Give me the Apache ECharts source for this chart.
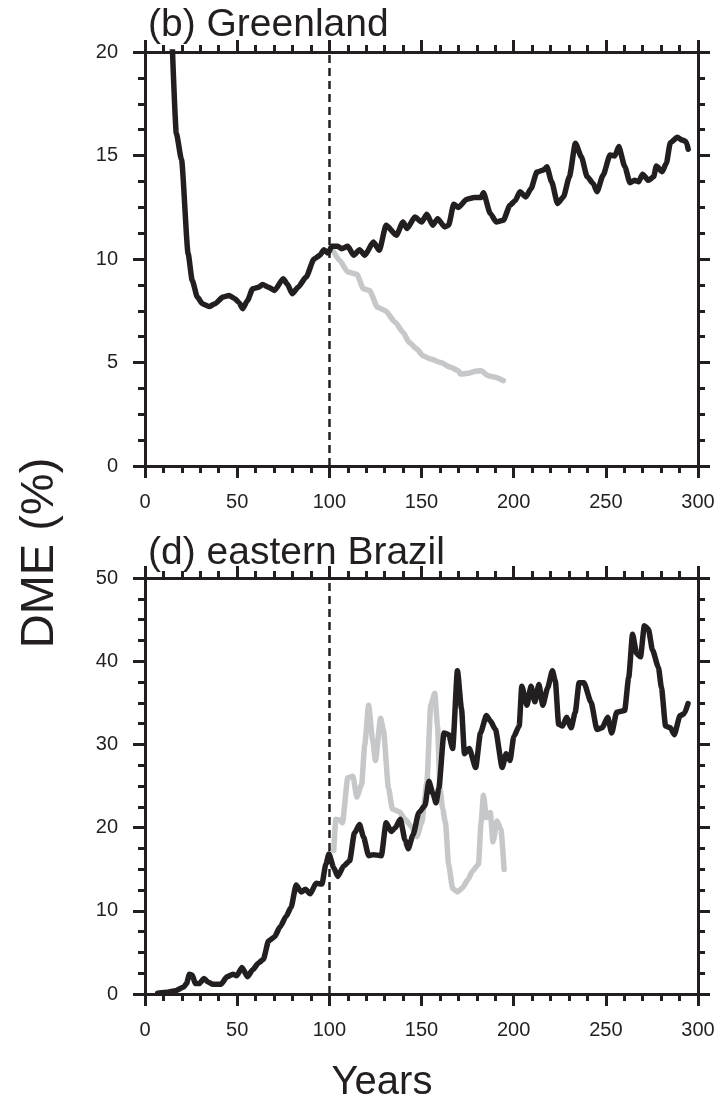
<!DOCTYPE html>
<html>
<head>
<meta charset="utf-8">
<script src="https://cdn.jsdelivr.net/npm/echarts@6/dist/echarts.min.js"></script>
<style>
html,body{margin:0;padding:0;background:#fff;}
#c{width:720px;height:1105px;}
</style>
</head>
<body>
<div id="c"></div>
<script>
// ---------- data ----------
const xTicks = [0, 50, 100, 150, 200, 250, 300];
const greenYears = [14.8,17,19.8,23.4,25.6,28.4,31.1,34.8,38,42.3,45.5,48.8,50.9,53,55.6,58.4,61.6,63.8,67,70.2,75,77.1,79.9,83.1,87.4,91.7,94.9,97.1,99.2,101.4,104.6,106.7,110,113.2,116.4,119.2,123.9,127.1,130.8,136.4,140,142.2,146.4,150.1,152.9,156.1,158.7,162.6,164.7,167.5,170.1,174.4,178.7,182.3,183.6,187.3,190.5,194.4,198,200.8,203.4,206.6,209.4,212.6,216.3,218,220.6,223.8,227,230.2,233.5,236.7,239.9,243.1,245.2,248.5,252.3,254.9,257,260.3,263.1,265.6,267.8,269.9,273.1,275.9,277.4,280.6,282.8,285,288.8,291.4,293.6,294.7];
const greenDME = [20.3,16.07,14.8,10.26,8.97,8.16,7.84,7.7,7.84,8.16,8.24,8.08,7.9,7.6,8.0,8.56,8.64,8.77,8.64,8.48,9.05,8.8,8.32,8.64,9.13,10.0,10.18,10.45,10.29,10.61,10.61,10.5,10.61,10.18,10.45,10.18,10.82,10.42,11.63,11.15,11.79,11.47,12.03,11.79,12.16,11.63,11.95,11.55,11.63,12.65,12.49,12.88,12.97,12.97,13.2,12.2,11.79,11.87,12.6,12.81,13.25,13.0,13.4,14.2,14.3,14.46,13.73,12.68,13.0,13.97,15.59,14.94,13.97,13.65,13.25,14.05,15.02,14.98,15.43,14.46,13.68,13.8,13.73,14.1,13.8,13.97,14.49,14.22,14.62,15.62,15.88,15.75,15.67,15.3];
const greenStopYears = [102.4,105.6,110,114.9,118.5,121.8,126.1,130.3,135.7,140,143.2,147.5,150.7,155,160.4,165.7,170,171.1,175.4,178.6,182.3,186.2,190.5,194.4];
const greenStopDME = [10.34,9.93,9.37,9.26,8.56,8.48,7.67,7.51,6.95,6.46,5.98,5.65,5.33,5.17,5.0,4.77,4.6,4.44,4.48,4.57,4.6,4.36,4.28,4.12];

const brazilYears = [6.9,12.2,16.5,20.8,22.5,24.1,25.6,27.3,29.4,32,34.1,36.9,41.2,44.5,47.7,49.8,52.6,55.6,58.4,61.6,64.2,67,70.2,73.4,76.6,79.2,82,84.8,87,89.6,92.8,96,98.1,99.8,102.4,104.6,107.8,111,113.6,116.4,118.5,121.3,123.9,128.2,130.8,133.6,135.7,138.5,141.1,142.8,145.4,148.6,151.9,154,156.2,157.9,159.4,162.2,164.8,166.9,169.5,171.7,173.3,175.9,179.4,182,185.2,187.3,190.1,193.8,195.9,198,200.1,203,204.4,207.2,209.4,211.5,213.7,215.8,218.4,221,222.6,224.4,226.5,228.7,231.2,233.4,235.5,238.1,241.9,245.2,248,251,253.2,255.9,260.2,262.4,264.5,266.7,268.8,270.9,273.1,275.3,278.5,280.2,282.4,285,287.1,290.3,292.5,294.6];
const brazilDME = [0.1,0.2,0.4,0.8,1.25,2.37,2.29,1.25,1.25,1.87,1.45,1.16,1.16,2.08,2.37,2.2,3.2,2.08,2.91,3.74,4.16,6.36,6.86,8.1,9.35,10.39,13.09,12.26,12.6,12.05,13.3,13.22,15.59,16.83,15.17,14.13,15.38,16.0,19.33,20.37,18.91,16.63,16.75,16.63,20.57,19.53,19.95,20.99,18.5,17.46,19.12,21.82,22.65,25.56,24.1,22.98,24.73,31.38,31.17,29.51,38.86,34.29,28.89,29.51,27.22,31.38,33.46,32.84,31.8,27.22,28.89,28.06,30.96,32.21,36.99,34.7,36.99,35.12,37.2,34.7,36.78,38.86,37.61,32.42,32.21,33.25,32.0,33.87,37.41,37.41,35.12,31.8,32.0,33.25,31.38,33.87,34.08,38.03,43.23,40.94,40.52,44.26,43.85,41.35,39.28,36.78,32.21,32.0,31.17,33.46,33.67,34.91];
const brazilStopYears = [102.4,103.5,105.6,107.1,110,112.8,114.9,117.5,119.2,121.3,123.5,125,127.8,129.3,132.1,134.2,137.9,141.1,144.3,147.5,150.1,152.9,155,157.2,158.7,160,161.5,163,164.7,166.9,169.5,172.3,175.1,177.6,180.9,182.3,183.6,185.2,187.3,188.8,191,193.1,194.8];
const brazilStopDME = [17.25,20.99,20.91,20.57,25.98,26.18,23.69,25.15,29.93,34.7,30.55,28.05,33.13,31.8,24.73,22.24,21.9,20.99,20.16,18.91,20.57,25.35,34.7,36.16,32.21,24.73,22.24,20.57,15.59,12.68,12.26,12.76,13.72,14.75,15.59,20.57,23.9,21.2,21.82,18.29,20.78,19.74,14.96];

const panelTitles = ['(b) Greenland', '(d) eastern Brazil'];
const yLabel = 'DME (%)';
const xLabel = 'Years';

// ---------- chart ----------
const zip = (a, b) => a.map((v, i) => [v, b[i]]);
const ink = '#231f20';
const gray = '#c6c7c9';
const font = '"Liberation Sans", Arial, Helvetica, sans-serif';

const grids = [
  {left: 145, right: 22, top: 52, height: 414},
  {left: 145, right: 22, top: 578, height: 416}
];

function xAx(gi, pos, labels) {
  return {
    type: 'value', gridIndex: gi, position: pos, min: 0, max: 300, interval: 50,
    axisLine: {show: true, onZero: false, lineStyle: {color: ink, width: 3}},
    axisTick: {show: true, length: 12, lineStyle: {color: ink, width: 3}},
    minorTick: {show: true, splitNumber: 5, length: 7, lineStyle: {color: ink, width: 3}},
    splitLine: {show: false}, minorSplitLine: {show: false},
    axisLabel: {show: labels, margin: 26, fontSize: 20, color: ink, fontFamily: font}
  };
}
function yAx(gi, pos, max, interval, labels) {
  return {
    type: 'value', gridIndex: gi, position: pos, min: 0, max: max, interval: interval,
    axisLine: {show: true, onZero: false, lineStyle: {color: ink, width: 3}},
    axisTick: {show: true, length: 12, lineStyle: {color: ink, width: 3}},
    minorTick: {show: true, splitNumber: 4, length: 7, lineStyle: {color: ink, width: 3}},
    splitLine: {show: false}, minorSplitLine: {show: false},
    axisLabel: {show: labels, margin: 27, fontSize: 20, color: ink, fontFamily: font}
  };
}

function lineSeries(xi, yi, data, color, z) {
  return {
    type: 'line', xAxisIndex: xi, yAxisIndex: yi, data: data, showSymbol: false, symbol: 'none',
    clip: true, z: z, animation: false, smooth: 0.2, smoothMonotone: 'x',
    lineStyle: {color: color, width: 5.5, join: 'round', cap: 'round'}
  };
}
function dashLine(xi, yi) {
  return {
    type: 'line', xAxisIndex: xi, yAxisIndex: yi, data: [], animation: false,
    markLine: {
      silent: true, symbol: ['none', 'none'], label: {show: false},
      lineStyle: {color: ink, width: 2.5, type: [8, 5]},
      data: [{xAxis: 100}]
    }
  };
}

const option = {
  animation: false,
  backgroundColor: '#fff',
  grid: grids,
  xAxis: [xAx(0, 'bottom', true), xAx(0, 'top', false), xAx(1, 'bottom', true), xAx(1, 'top', false)],
  yAxis: [yAx(0, 'left', 20, 5, true), yAx(0, 'right', 20, 5, false), yAx(1, 'left', 50, 10, true), yAx(1, 'right', 50, 10, false)],
  title: [
    {text: panelTitles[0], left: 143, top: 1, textStyle: {fontSize: 39, fontWeight: 'normal', color: ink, fontFamily: font}},
    {text: panelTitles[1], left: 143, top: 529, textStyle: {fontSize: 39, fontWeight: 'normal', color: ink, fontFamily: font}}
  ],
  graphic: [
    {type: 'text', x: 40, y: 553, rotation: Math.PI / 2,
     style: {text: yLabel, font: '47px ' + font, fill: ink, textAlign: 'center', textVerticalAlign: 'middle', align: 'center', verticalAlign: 'middle'}},
    {type: 'text', x: 382, y: 1083,
     style: {text: xLabel, font: '40px ' + font, fill: ink, textAlign: 'center', textVerticalAlign: 'middle', align: 'center', verticalAlign: 'middle'}}
  ],
  series: [
    dashLine(0, 0),
    lineSeries(0, 0, zip(greenStopYears, greenStopDME), gray, 3),
    lineSeries(0, 0, zip(greenYears, greenDME), ink, 4),
    dashLine(2, 2),
    lineSeries(2, 2, zip(brazilStopYears, brazilStopDME), gray, 3),
    lineSeries(2, 2, zip(brazilYears, brazilDME), ink, 4)
  ]
};

const chart = echarts.init(document.getElementById('c'), null, {renderer: 'canvas'});
chart.setOption(option);
</script>
</body>
</html>
